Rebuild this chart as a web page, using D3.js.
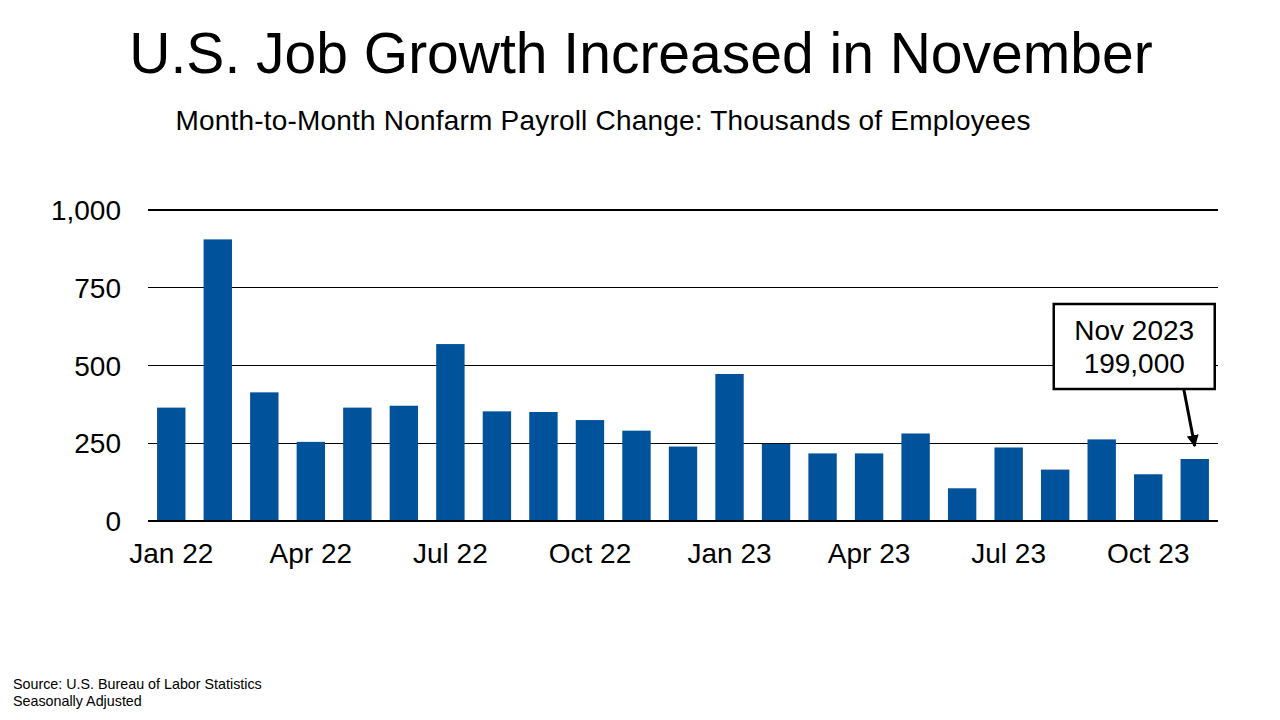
<!DOCTYPE html>
<html>
<head>
<meta charset="utf-8">
<script src="https://cdn.jsdelivr.net/npm/d3@7"></script>
<style>
  html, body { margin: 0; padding: 0; background: #fff; }
  svg { display: block; font-family: "Liberation Sans", Arial, sans-serif; }
</style>
</head>
<body>
<svg id="chart" width="1280" height="720"></svg>
<script>
const months = ["Jan 22","Feb 22","Mar 22","Apr 22","May 22","Jun 22","Jul 22","Aug 22","Sep 22","Oct 22","Nov 22","Dec 22",
                "Jan 23","Feb 23","Mar 23","Apr 23","May 23","Jun 23","Jul 23","Aug 23","Sep 23","Oct 23","Nov 23"];
const payrollChange = [364, 904, 413, 254, 364, 370, 568, 352, 350, 324, 290, 239,
                       472, 248, 217, 217, 281, 105, 236, 165, 262, 150, 199];
const xTickLabels = ["Jan 22","Apr 22","Jul 22","Oct 22","Jan 23","Apr 23","Jul 23","Oct 23"];
const yTicks = [0, 250, 500, 750, 1000];
const title = "U.S. Job Growth Increased in November";
const subtitle = "Month-to-Month Nonfarm Payroll Change: Thousands of Employees";
const calloutLines = ["Nov 2023", "199,000"];
const footnotes = ["Source: U.S. Bureau of Labor Statistics", "Seasonally Adjusted"];

const svg = d3.select("#chart");
const barColor = "#00529B";
const FONT = "Liberation Sans, Arial, sans-serif";

const x = d3.scaleBand().domain(months).range([148, 1218]).paddingInner(0.39).paddingOuter(0.195);
const y = d3.scaleLinear().domain([0, 1000]).range([521, 209.5]);

// title
svg.append("text").attr("x", 641).attr("y", 73).attr("text-anchor", "middle")
  .attr("font-size", 57).attr("fill", "#000").text(title);
svg.append("text").attr("x", 603).attr("y", 130).attr("text-anchor", "middle")
  .attr("font-size", 28).attr("letter-spacing", 0.2).attr("fill", "#000").text(subtitle);

// gridlines
const yAxis = d3.axisLeft(y).tickValues(yTicks).tickSize(-(1218 - 148)).tickFormat(d3.format(","));
const gy = svg.append("g").attr("transform", "translate(148,0)").call(yAxis);
gy.select(".domain").remove();
gy.selectAll(".tick line").attr("stroke", "#000").attr("stroke-width", 1.2).attr("shape-rendering", "crispEdges");
gy.selectAll(".tick text").attr("x", -27).attr("dy", "0.35em").attr("font-size", 28)
  .attr("font-family", FONT).attr("fill", "#000");

// bars
svg.append("g").selectAll("rect").data(months).join("rect")
  .attr("x", d => x(d)).attr("width", x.bandwidth())
  .attr("y", (d, i) => y(payrollChange[i]))
  .attr("height", (d, i) => y(0) - y(payrollChange[i]))
  .attr("fill", barColor);

// baseline redraw
svg.append("line").attr("x1", 148).attr("x2", 1218).attr("y1", y(0)).attr("y2", y(0))
  .attr("stroke", "#000").attr("stroke-width", 1.2).attr("shape-rendering", "crispEdges");

// x axis labels
const xAxis = d3.axisBottom(x).tickValues(xTickLabels).tickSize(0).tickPadding(0);
const gx = svg.append("g").attr("transform", `translate(0,${y(0)})`).call(xAxis);
gx.select(".domain").remove();
gx.selectAll(".tick text").attr("y", 42).attr("dy", 0).attr("font-size", 28)
  .attr("font-family", FONT).attr("fill", "#000");

// callout
const last = months[months.length - 1];
const lastVal = payrollChange[payrollChange.length - 1];
const tipX = x(last) + x.bandwidth() / 2;
const tipY = y(lastVal) - 13;
const boxW = 161, boxH = 85;
const boxX = tipX - 141, boxY = 304;

svg.append("defs").append("marker").attr("id", "arrow")
  .attr("viewBox", "0 0 10 10").attr("refX", 9).attr("refY", 5)
  .attr("markerWidth", 4).attr("markerHeight", 4).attr("orient", "auto")
  .append("path").attr("d", "M0,0 L10,5 L0,10 Z").attr("fill", "#000");

svg.append("line").attr("x1", tipX - 11).attr("y1", boxY + boxH)
  .attr("x2", tipX).attr("y2", tipY)
  .attr("stroke", "#000").attr("stroke-width", 3).attr("marker-end", "url(#arrow)");

svg.append("rect").attr("x", boxX).attr("y", boxY).attr("width", boxW).attr("height", boxH)
  .attr("fill", "#fff").attr("stroke", "#000").attr("stroke-width", 2.5);
calloutLines.forEach((t, i) => {
  svg.append("text").attr("x", boxX + boxW / 2).attr("y", boxY + 36 + i * 33)
    .attr("text-anchor", "middle").attr("font-size", 28).attr("fill", "#000").text(t);
});

// footnotes
footnotes.forEach((t, i) => {
  svg.append("text").attr("x", 13).attr("y", 689 + i * 17).attr("font-size", 14.3).attr("fill", "#000").text(t);
});
</script>
</body>
</html>
